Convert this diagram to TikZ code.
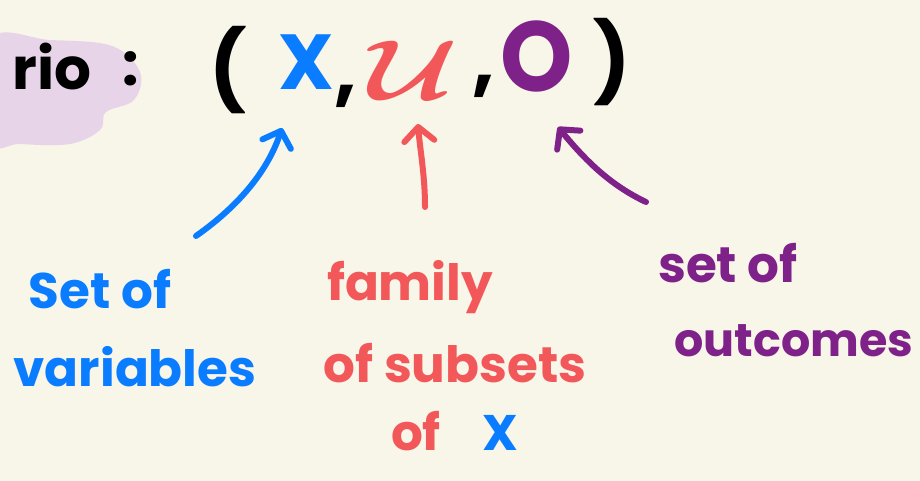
\documentclass[tikz,border=0pt]{standalone}
\usepackage{amsmath}
\usepackage{fontspec}
\setmainfont{Poppins}
\usetikzlibrary{arrows.meta}
\definecolor{bg}{HTML}{F8F5E9}
\definecolor{blobc}{HTML}{E7D4E9}
\definecolor{hblue}{HTML}{0A7CFF}
\definecolor{hred}{HTML}{F2585A}
\definecolor{hpurple}{HTML}{7E2189}
\tikzset{
  big/.style={inner sep=0pt, font=\fontsize{78}{80}\selectfont\bfseries},
  lab/.style={inner sep=0pt, anchor=base, font=\fontsize{50}{54}\selectfont\bfseries},
  harrow/.style={line width=6pt, line cap=round, line join=round,
    -{Straight Barb[length=14pt,width=30pt,line cap=round,line join=round]}},
}
\begin{document}
\begin{tikzpicture}[x=1pt,y=-1pt]
\useasboundingbox (0,0) rectangle (920,481);
\fill[bg] (0,0) rectangle (920,481);
\begin{scope}
\clip (0,0) rectangle (920,481);
\fill[blobc] plot[smooth cycle, tension=0.6] coordinates {(-10,40) (50,40) (112,46) (140,72) (134,100) (106,112) (100,130) (70,144) (20,144) (-10,140)};
\end{scope}
% top line
\node[lab, font=\fontsize{58}{60}\selectfont\bfseries] (rio) at (52,90) {rio};
\node[lab, font=\fontsize{58}{60}\selectfont\bfseries] (colon) at (131,86) {:};
\node[big, anchor=base] (lp) at (228,98) {(};
\node[big, anchor=base, text=hblue] (X) at (306,90) {X};
\node[big, anchor=base] (c1) at (346,98) {,};
\node[inner sep=0pt, xscale=11, yscale=8.5, text=hred] (U) at (413,70) {$\boldsymbol{\mathcal{U}}$};
\node[big, anchor=base] (c2) at (484,88) {,};
\node[big, anchor=base, text=hpurple, font=\fontsize{92}{94}\selectfont\bfseries, yscale=1.08] (O) at (537,92) {O};
\node[big, anchor=base] (rp) at (612,90) {)};
% labels
\node[lab, text=hblue] (setof) at (100,308) {Set of};
\node[lab, text=hblue] (vars) at (135,386) {variables};
\node[lab, text=hred] (fam) at (410,300) {family};
\node[lab, text=hred] (subs) at (455,382) {of subsets};
\node[lab, text=hred] (of2) at (416,450) {of};
\node[lab, text=hblue] (X2) at (500,450) {X};
\node[lab, text=hpurple] (setof2) at (728,282) {set of};
\node[lab, text=hpurple, font=\fontsize{46}{50}\selectfont\bfseries] (outc) at (794,356) {outcomes};
% arrows
\coordinate (ba) at (196,236);
\coordinate (bb) at (282,128);
\coordinate (ra) at (425,207);
\coordinate (rb) at (418,124);
\coordinate (pa) at (646,202);
\coordinate (pb) at (558,127);
\draw[harrow, hblue] (ba) .. controls (240,205) and (268,170) .. (bb);
\draw[harrow, hred] (ra) .. controls (425,175) and (420,150) .. (rb);
\draw[harrow, hpurple] (pa) .. controls (610,185) and (585,160) .. (pb);
\end{tikzpicture}
\end{document}
